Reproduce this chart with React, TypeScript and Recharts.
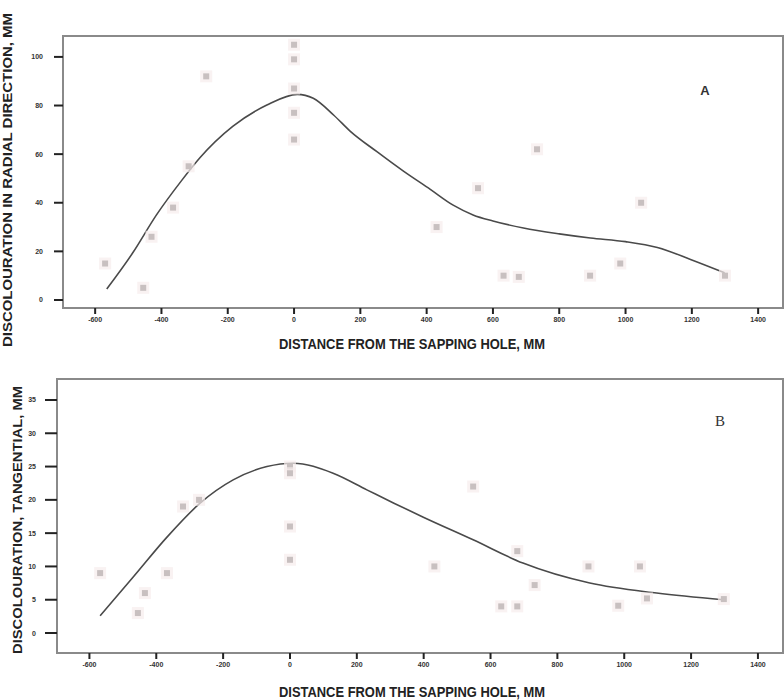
import React from "react";
import {
  ComposedChart,
  Scatter,
  Line,
  XAxis,
  YAxis,
  ReferenceArea,
} from "recharts";

// ---- data ----
const xTicks = [-600, -400, -200, 0, 200, 400, 600, 800, 1000, 1200, 1400];
const radialTicks = [0, 20, 40, 60, 80, 100];
const tangentialTicks = [0, 5, 10, 15, 20, 25, 30, 35];

const radialPoints = [
  { x: -570, y: 15 },
  { x: -455, y: 5 },
  { x: -430, y: 26 },
  { x: -365, y: 38 },
  { x: -318, y: 55 },
  { x: -265, y: 92 },
  { x: 0, y: 105 },
  { x: 0, y: 99 },
  { x: 0, y: 87 },
  { x: 0, y: 77 },
  { x: 0, y: 66 },
  { x: 430, y: 30 },
  { x: 555, y: 46 },
  { x: 632, y: 10 },
  { x: 678, y: 9.5 },
  { x: 733, y: 62 },
  { x: 893, y: 10 },
  { x: 984, y: 15 },
  { x: 1047, y: 40 },
  { x: 1300, y: 10 },
];

const radialCurve = [
  { x: -565, y: 4.5 },
  { x: -487, y: 19.3 },
  { x: -415, y: 35 },
  { x: -340, y: 49 },
  { x: -284, y: 58.5 },
  { x: -185, y: 71.4 },
  { x: -82, y: 80.2 },
  { x: 10, y: 84.6 },
  { x: 58, y: 83 },
  { x: 120, y: 76 },
  { x: 169, y: 69.5 },
  { x: 250, y: 61 },
  { x: 330, y: 53 },
  { x: 411, y: 45.5 },
  { x: 480, y: 39 },
  { x: 540, y: 35 },
  { x: 600, y: 32.5 },
  { x: 692, y: 29.6 },
  { x: 800, y: 27.2 },
  { x: 894, y: 25.5 },
  { x: 1000, y: 24 },
  { x: 1096, y: 21.6 },
  { x: 1196, y: 16.7 },
  { x: 1299, y: 11.2 },
];

const tangentialPoints = [
  { x: -568, y: 9 },
  { x: -455, y: 3 },
  { x: -434, y: 6 },
  { x: -368, y: 9 },
  { x: -320, y: 19 },
  { x: -272, y: 20 },
  { x: 0, y: 25 },
  { x: 0, y: 24 },
  { x: 0, y: 16 },
  { x: 0, y: 11 },
  { x: 432, y: 10 },
  { x: 548, y: 22 },
  { x: 632, y: 4 },
  { x: 680, y: 4 },
  { x: 680, y: 12.3 },
  { x: 732, y: 7.2 },
  { x: 893, y: 10 },
  { x: 982, y: 4.1 },
  { x: 1047, y: 10 },
  { x: 1068, y: 5.2 },
  { x: 1298, y: 5.1 },
];

const tangentialCurve = [
  { x: -568, y: 2.6 },
  { x: -469, y: 8.4 },
  { x: -368, y: 14.4 },
  { x: -269, y: 19.5 },
  { x: -170, y: 23 },
  { x: -69, y: 25 },
  { x: 10, y: 25.5 },
  { x: 129, y: 24 },
  { x: 230, y: 21.5 },
  { x: 311, y: 19.5 },
  { x: 399, y: 17.4 },
  { x: 548, y: 14 },
  { x: 697, y: 10.5 },
  { x: 897, y: 7.5 },
  { x: 1097, y: 6 },
  { x: 1296, y: 5 },
];

const X_DOMAIN: [number, number] = [-697, 1475];
const RADIAL_DOMAIN: [number, number] = [-3.3, 108.6];
const TANG_DOMAIN: [number, number] = [-3.0, 38.15];

const FONT = "'Liberation Sans', Arial, sans-serif";
const tickStyle = { fontSize: 7, fill: "#333", fontFamily: FONT, fontWeight: 700 };

const Square = (props: any) => {
  const { cx, cy } = props;
  if (cx == null || cy == null) return null;
  return (
    <g>
      <rect x={cx - 6} y={cy - 6} width={12} height={12} fill="#f7ecec" opacity={0.7} />
      <rect x={cx - 3} y={cy - 3} width={6} height={6} fill="#c8c0c0" />
    </g>
  );
};

type PanelProps = {
  points: { x: number; y: number }[];
  curve: { x: number; y: number }[];
  yDomain: [number, number];
  yTicks: number[];
  top: number;
  yAxisWidth: number;
  xAxisHeight: number;
  yTickSize: number;
  yTickMargin: number;
};

function Panel(p: PanelProps) {
  return (
    <ComposedChart
      width={784}
      height={350}
      margin={{ top: p.top, right: 1, left: 0, bottom: 0 }}
    >
      <XAxis
        type="number"
        dataKey="x"
        domain={X_DOMAIN}
        ticks={xTicks}
        allowDataOverflow
        axisLine={{ stroke: "#8a8a8a", strokeWidth: 2 }}
        tickLine={{ stroke: "#222", strokeWidth: 2 }}
        tickSize={6}
        tickMargin={3}
        tick={tickStyle}
        height={p.xAxisHeight}
        interval={0}
      />
      <YAxis
        type="number"
        dataKey="y"
        domain={p.yDomain}
        ticks={p.yTicks}
        allowDataOverflow
        axisLine={{ stroke: "#8a8a8a", strokeWidth: 2 }}
        tickLine={{ stroke: "#222", strokeWidth: 2 }}
        tickSize={p.yTickSize}
        tickMargin={p.yTickMargin}
        tick={tickStyle}
        width={p.yAxisWidth}
        interval={0}
      />
      <ReferenceArea
        x1={X_DOMAIN[0]}
        x2={X_DOMAIN[1]}
        y1={p.yDomain[0]}
        y2={p.yDomain[1]}
        fill="none"
        stroke="#8a8a8a"
        strokeWidth={2}
        ifOverflow="visible"
      />
      <Scatter data={p.points} dataKey="y" shape={Square} isAnimationActive={false} />
      <Line
        data={p.curve}
        dataKey="y"
        type="monotone"
        stroke="#4a4a4a"
        strokeWidth={1.6}
        dot={false}
        activeDot={false}
        isAnimationActive={false}
      />
    </ComposedChart>
  );
}

export default function App() {
  return (
    <div style={{ position: "absolute", left: 0, top: 0, width: 784, height: 700, background: "#fff" }}>
      <div style={{ position: "absolute", left: 0, top: 0 }}>
        <Panel
          points={radialPoints}
          curve={radialCurve}
          yDomain={RADIAL_DOMAIN}
          yTicks={radialTicks}
          top={36}
          yAxisWidth={63}
          xAxisHeight={42}
          yTickSize={9}
          yTickMargin={11}
        />
      </div>
      <div style={{ position: "absolute", left: 0, top: 350 }}>
        <Panel
          points={tangentialPoints}
          curve={tangentialCurve}
          yDomain={TANG_DOMAIN}
          yTicks={tangentialTicks}
          top={29}
          yAxisWidth={57}
          xAxisHeight={47}
          yTickSize={12}
          yTickMargin={9}
        />
      </div>
      <svg
        width={784}
        height={700}
        style={{ position: "absolute", left: 0, top: 0, pointerEvents: "none" }}
      >
        <g fontFamily={FONT} fontWeight={700} fill="#222">
          <text
            x={412}
            y={349}
            fontSize={15}
            textAnchor="middle"
            textLength={266}
            lengthAdjust="spacingAndGlyphs"
          >
            DISTANCE FROM THE SAPPING HOLE, MM
          </text>
          <text
            x={412}
            y={697}
            fontSize={15}
            textAnchor="middle"
            textLength={266}
            lengthAdjust="spacingAndGlyphs"
          >
            DISTANCE FROM THE SAPPING HOLE, MM
          </text>
          <text
            transform="translate(12,180) rotate(-90)"
            fontSize={12.5}
            textAnchor="middle"
            textLength={334}
            lengthAdjust="spacingAndGlyphs"
          >
            DISCOLOURATION IN RADIAL DIRECTION, MM
          </text>
          <text
            transform="translate(22,520) rotate(-90)"
            fontSize={13.5}
            textAnchor="middle"
            textLength={268}
            lengthAdjust="spacingAndGlyphs"
          >
            DISCOLOURATION, TANGENTIAL, MM
          </text>
          <text x={705} y={95} fontSize={13} textAnchor="middle" fill="#333">
            A
          </text>
        </g>
        <text
          x={720}
          y={426}
          fontSize={15}
          textAnchor="middle"
          fill="#333"
          fontFamily="'Liberation Serif', 'Times New Roman', serif"
        >
          B
        </text>
      </svg>
    </div>
  );
}
